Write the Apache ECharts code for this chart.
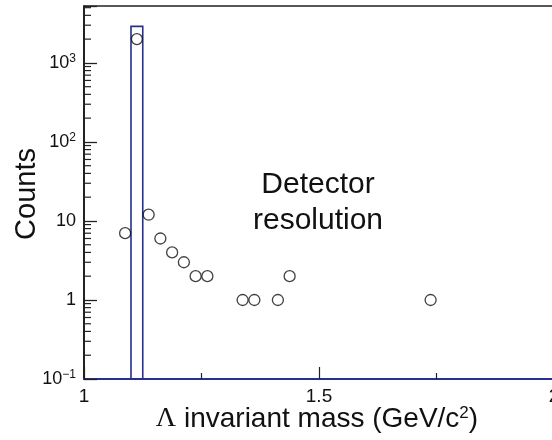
<!DOCTYPE html>
<html><head><meta charset="utf-8">
<script src="https://cdn.jsdelivr.net/npm/echarts@6/dist/echarts.min.js"></script>
<style>html,body{margin:0;padding:0;background:#fff}#c{width:552px;height:440px}</style>
</head><body><div id="c"></div>
<script>
// ---- data ----
const massValues  = [1.0875, 1.1125, 1.1375, 1.1625, 1.1875, 1.2125, 1.2375, 1.2625, 1.3375, 1.3625, 1.4125, 1.4375, 1.7375];
const countValues = [7, 2000, 12, 6, 4, 3, 2, 2, 1, 1, 1, 2, 1];
const resolutionBinEdges = [1.1, 1.125];
const resolutionCount = 2900;
const xTickLabels = {1: '1', 1.5: '1.5', 2: '2'};
const yTickLabels = {0.1: '10{sup|−1}', 1: '1', 10: '10', 100: '10{sup|2}', 1000: '10{sup|3}'};
const yMin = 0.1, yMax = 5250;

const FONT = "'Liberation Sans', Arial, Helvetica, sans-serif";
const NAVY = '#27308c';

// log minor tick positions (axis decoration)
const minorTickValues = [];
for (let e = -1; e <= 3; e++) {
  for (let m = 2; m <= 9; m++) {
    const v = m * Math.pow(10, e);
    if (v < yMax) minorTickValues.push([1, v]);
  }
}

const points = massValues.map((m, i) => [m, countValues[i]]);

const chart = echarts.init(document.getElementById('c'), null, {renderer: 'canvas'});
chart.setOption({
  animation: false,
  backgroundColor: '#fff',
  grid: {left: 84, top: 6, right: -2, bottom: 61, outerBoundsMode: 'none', show: true, borderColor: '#222', borderWidth: 1.5, containLabel: false},
  xAxis: {
    type: 'value', min: 1, max: 2, interval: 0.5,
    axisLine: {show: true, lineStyle: {color: NAVY, width: 2}},
    axisTick: {show: true, inside: true, length: 12, lineStyle: {color: '#222', width: 1.2}},
    minorTick: {show: true, splitNumber: 2, length: 6, lineStyle: {color: '#222', width: 1.2}},
    splitLine: {show: false},
    axisLabel: {
      margin: 8, color: '#111', fontFamily: FONT, fontSize: 19,
      formatter: v => xTickLabels[v] !== undefined ? xTickLabels[v] : ''
    }
  },
  yAxis: {
    type: 'log', logBase: 10, min: yMin, max: yMax, splitNumber: 5,
    axisLine: {show: true, lineStyle: {color: '#111', width: 1.5}},
    axisTick: {show: true, inside: true, length: 13, lineStyle: {color: '#222', width: 1.3}},
    splitLine: {show: false},
    axisLabel: {
      margin: 8, color: '#111', fontFamily: FONT, fontSize: 18,
      formatter: v => {
        for (const k in yTickLabels) { if (Math.abs(Math.log10(v) - Math.log10(+k)) < 1e-6) return yTickLabels[k]; }
        return '';
      },
      rich: {sup: {fontSize: 12, fontFamily: FONT, color: '#111', verticalAlign: 'top', padding: [0, 0, 8, 0]}}
    }
  },
  series: [
    {
      type: 'custom', name: 'minorTicks', silent: true, z: 5,
      data: minorTickValues,
      renderItem: (params, api) => {
        const p = api.coord([api.value(0), api.value(1)]);
        return {type: 'rect', shape: {x: p[0], y: p[1] - 0.6, width: 7, height: 1.2}, style: {fill: '#222'}};
      }
    },
    {
      type: 'custom', name: 'resolution', silent: true, z: 2,
      data: [[resolutionBinEdges[0], resolutionBinEdges[1], resolutionCount]],
      renderItem: (params, api) => {
        const p0 = api.coord([api.value(0), yMin]);
        const p1 = api.coord([api.value(1), api.value(2)]);
        return {type: 'rect', shape: {x: p0[0], y: p1[1], width: p1[0] - p0[0], height: p0[1] - p1[1]},
          style: {fill: 'none', stroke: NAVY, lineWidth: 1.6}};
      }
    },
    {
      type: 'scatter', name: 'data', z: 3,
      data: points, symbol: 'circle', symbolSize: 11,
      itemStyle: {color: 'rgba(255,255,255,0)', borderColor: '#111', borderWidth: 1.3}
    }
  ],
  graphic: [
    {type: 'text', x: 318, y: 185, style: {text: 'Detector', font: '30px ' + FONT, fill: '#111', align: 'center', verticalAlign: 'middle'}},
    {type: 'text', x: 318, y: 221, style: {text: 'resolution', font: '30px ' + FONT, fill: '#111', align: 'center', verticalAlign: 'middle'}},
    {type: 'text', x: 27, y: 194, rotation: Math.PI / 2, style: {text: 'Counts', font: '29px ' + FONT, fill: '#111', align: 'center', verticalAlign: 'middle'}},
    {type: 'text', x: 317, y: 419, style: {
      text: '{g|Λ} invariant mass (GeV/c{sup|2})', fill: '#111', align: 'center', verticalAlign: 'middle',
      font: '28px ' + FONT,
      rich: {
        g: {fontFamily: "'Liberation Serif', 'DejaVu Serif', serif", fontSize: 28, fill: '#111'},
        sup: {fontSize: 17, fontFamily: FONT, fill: '#111', verticalAlign: 'top', padding: [0, 0, 11, 0]}
      }
    }}
  ]
});
</script></body></html>
